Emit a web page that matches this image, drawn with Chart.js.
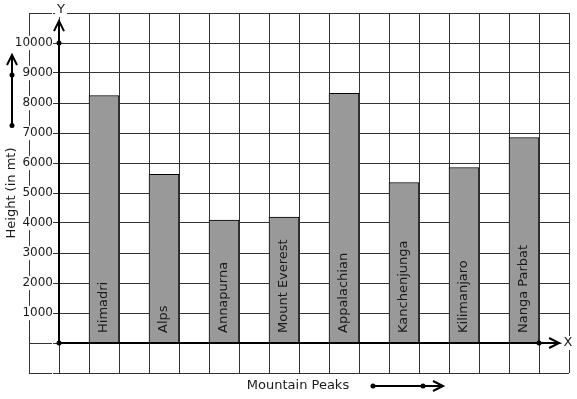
<!DOCTYPE html>
<html>
<head>
<meta charset="utf-8">
<script src="https://cdn.jsdelivr.net/npm/chart.js@4"></script>
<style>
  html, body { margin: 0; padding: 0; background: #fff; }
  canvas { display: block; }
</style>
</head>
<body>
<canvas id="chart" width="577" height="399"></canvas>
<script>
// Dados
const peaks = ['Himadri', 'Alps', 'Annapurna', 'Mount Everest', 'Appalachian', 'Kanchenjunga', 'Kilimanjaro', 'Nanga Parbat'];
const heights = [8250, 5620, 4100, 4200, 8320, 5350, 5850, 6850];
const yTickLabels = [1000, 2000, 3000, 4000, 5000, 6000, 7000, 8000, 9000, 10000];
const xTitle = 'Mountain Peaks';
const yTitle = 'Height (in mt)';

const FONT = '"DejaVu Sans", sans-serif';
const INK = '#1a1a1a';

// cada pico ocupa uma coluna sim, outra não, a partir da coluna à direita do eixo Y
const points = peaks.map((p, i) => ({ x: 2 * i + 1.5, y: heights[i] }));

function dot(ctx, x, y, r) {
    ctx.beginPath();
    ctx.arc(x, y, r, 0, Math.PI * 2);
    ctx.fill();
}

function seg(ctx, x1, y1, x2, y2) {
    ctx.beginPath();
    ctx.moveTo(x1, y1);
    ctx.lineTo(x2, y2);
    ctx.stroke();
}

function chevron(ctx, tx, ty, dx, dy) {
    // ponta em (tx, ty), abre para trás na direção (dx, dy)
    ctx.beginPath();
    ctx.moveTo(tx + dx * 10 - dy * 5, ty + dy * 10 - dx * 5);
    ctx.lineTo(tx, ty);
    ctx.lineTo(tx + dx * 10 + dy * 5, ty + dy * 10 + dx * 5);
    ctx.stroke();
}

function boxedText(ctx, text, x, y) {
    const w = ctx.measureText(text).width;
    ctx.fillStyle = '#fff';
    ctx.fillRect(x - w / 2 - 2, y - 7, w + 4, 14);
    ctx.fillStyle = INK;
    ctx.fillText(text, x, y);
}

const decor = {
    id: 'decor',
    afterDatasetsDraw(chart) {
        const { ctx, scales: { x, y } } = chart;
        const ox = x.getPixelForValue(0);
        const oy = y.getPixelForValue(0);
        ctx.save();
        ctx.strokeStyle = '#000';
        ctx.fillStyle = '#000';
        ctx.lineWidth = 2;

        // eixos com setas
        const yTip = y.getPixelForValue(10730);
        const xTip = x.getPixelForValue(16.67);
        seg(ctx, ox, oy, ox, yTip);
        chevron(ctx, ox, yTip, 0, 1);
        seg(ctx, ox, oy, xTip, oy);
        chevron(ctx, xTip, oy, -1, 0);
        dot(ctx, ox, oy, 2.5);
        dot(ctx, ox, y.getPixelForValue(10000), 2.5);
        dot(ctx, x.getPixelForValue(16), oy, 2.5);

        // nomes dentro das barras
        const meta = chart.getDatasetMeta(0);
        ctx.fillStyle = INK;
        ctx.font = '13px ' + FONT;
        ctx.textAlign = 'left';
        ctx.textBaseline = 'middle';
        meta.data.forEach((bar, i) => {
            ctx.save();
            ctx.translate(bar.x, oy - 10);
            ctx.rotate(-Math.PI / 2);
            ctx.fillText(peaks[i], 0, 0);
            ctx.restore();
        });
        ctx.restore();
    },
    afterDraw(chart) {
        const { ctx, scales: { x, y } } = chart;
        ctx.save();
        ctx.font = '13px ' + FONT;
        ctx.textAlign = 'center';
        ctx.textBaseline = 'middle';
        boxedText(ctx, 'Y', x.getPixelForValue(0) + 2, 10);
        boxedText(ctx, 'X', 568, y.getPixelForValue(0));

        // título do eixo Y + seta lateral
        ctx.fillStyle = INK;
        ctx.save();
        ctx.translate(12, 193);
        ctx.rotate(-Math.PI / 2);
        ctx.fillText(yTitle, 0, 0);
        ctx.restore();

        ctx.strokeStyle = '#000';
        ctx.fillStyle = '#000';
        ctx.lineWidth = 2;
        seg(ctx, 12, 125.5, 12, 55);
        chevron(ctx, 12, 55, 0, 1);
        dot(ctx, 12, 75, 2.5);
        dot(ctx, 12, 125.5, 2.5);

        // título do eixo X + seta
        ctx.fillStyle = INK;
        ctx.fillText(xTitle, 298, 386);
        ctx.fillStyle = '#000';
        seg(ctx, 373, 386, 443, 386);
        chevron(ctx, 443, 386, -1, 0);
        dot(ctx, 373, 386, 2.5);
        dot(ctx, 423, 386, 2.5);
        ctx.restore();
    }
};

new Chart(document.getElementById('chart'), {
    type: 'bar',
    data: {
        datasets: [{
            data: points,
            backgroundColor: '#999999',
            borderColor: '#000',
            borderWidth: 1,
            borderSkipped: 'bottom',
            categoryPercentage: 1,
            barPercentage: 1
        }]
    },
    options: {
        responsive: false,
        animation: false,
        events: [],
        layout: { padding: { left: 29, right: 8, top: 13, bottom: 26 } },
        plugins: {
            legend: { display: false },
            tooltip: { enabled: false }
        },
        scales: {
            x: {
                type: 'linear',
                position: { y: 0 },
                min: -1,
                max: 17,
                offset: false,
                grid: { color: '#333', lineWidth: 1, drawTicks: false, offset: false },
                border: { display: false },
                ticks: { display: false, stepSize: 1 }
            },
            y: {
                type: 'linear',
                // rótulos encostam um pouco à esquerda do eixo
                position: { x: -0.2 },
                min: -1000,
                max: 11000,
                grid: { color: '#333', lineWidth: 1, drawTicks: false },
                border: { display: false },
                ticks: {
                    stepSize: 1000,
                    z: 1,
                    color: INK,
                    font: { family: FONT, size: 12 },
                    showLabelBackdrop: true,
                    backdropColor: '#fff',
                    backdropPadding: { top: 0, bottom: 0, left: 1, right: 0 },
                    callback: v => yTickLabels.includes(v) ? String(v) : ''
                }
            }
        }
    },
    plugins: [decor]
});
</script>
</body>
</html>
